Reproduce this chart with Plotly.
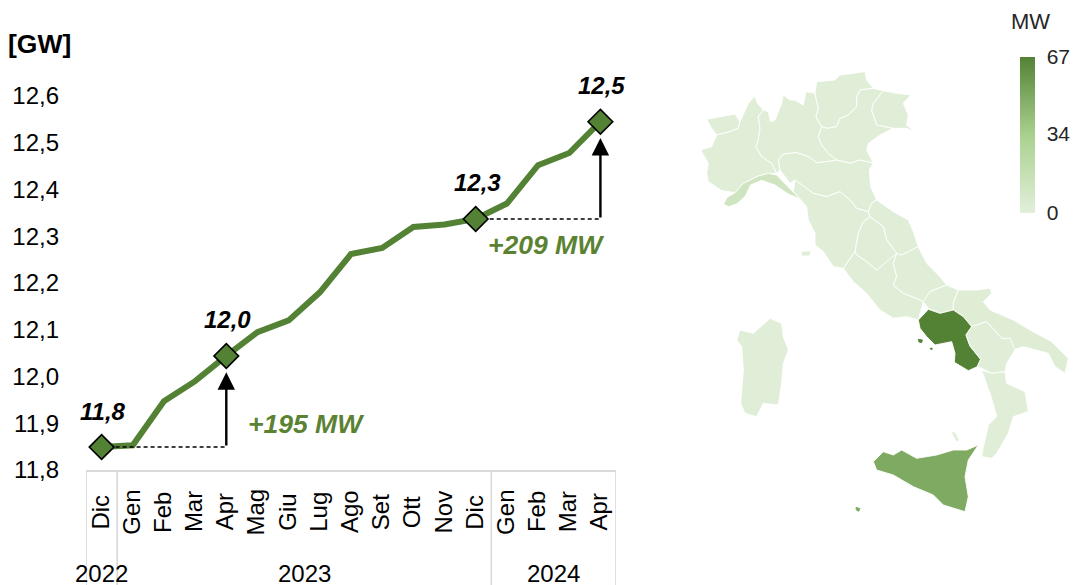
import plotly.graph_objects as go
from plotly.colors import sample_colorscale

FONT = "Liberation Sans, Arial, sans-serif"
GREEN = "#548235"
TEXT_GREEN = "#5b8232"
GRID = "#d9d9d9"

months = ["Dic", "Gen", "Feb", "Mar", "Apr", "Mag", "Giu", "Lug", "Ago", "Set", "Ott", "Nov", "Dic",
          "Gen", "Feb", "Mar", "Apr"]
capacity_gw = [11.849, 11.853, 11.947, 11.99, 12.044, 12.095, 12.12, 12.18, 12.262, 12.275, 12.32,
               12.325, 12.337, 12.37, 12.452, 12.478, 12.545]
highlight_idx = [0, 4, 12, 16]
highlight_lbl = ["11,8", "12,0", "12,3", "12,5"]
years = ["2022", "2023", "2024"]
year_pos = [0, 6.5, 14.5]
year_edges = [-0.5, 0.5, 12.5, 16.5]
y_ticks = [11.8, 11.9, 12.0, 12.1, 12.2, 12.3, 12.4, 12.5, 12.6]

colorbar_ticks = [0, 34, 67]
colorscale = [[0, "#e2efda"], [0.5, "#a9d18e"], [1, "#548235"]]

# Regional additions [MW], estimated from the map shading
region_mw = {"Valle d'Aosta": 1, "Piemonte": 1, "Lombardia": 1, "Trentino-Alto Adige": 1, "Veneto": 1,
             "Friuli-Venezia Giulia": 1, "Emilia-Romagna": 1, "Liguria": 11, "Toscana": 1, "Marche": 1,
             "Umbria": 1, "Lazio": 1, "Abruzzo": 1, "Molise": 1, "Puglia": 2, "Campania": 67,
             "Basilicata": 1, "Calabria": 1, "Sicilia": 50, "Sardegna": 1}

# Region outlines in map units
north = {
    "Valle d'Aosta": [(80,358),(115,352),(165,342),(180,365),(175,385),(150,395),(110,405),(95,385)],
    "Piemonte": [(110,405),(150,395),(175,385),(180,365),(205,310),(225,288),(232,310),(250,330),(235,350),
                 (240,385),(235,420),(228,440),(245,470),(275,490),(290,520),(265,520),(235,528),(190,550),
                 (165,578),(125,572),(85,545),(80,520),(85,490),(62,450),(95,440),(105,420)],
    "Lombardia": [(250,330),(265,335),(272,365),(285,360),(305,310),(310,285),(330,300),(345,300),(370,315),
                  (378,275),(405,280),(415,325),(408,350),(425,380),(415,410),(425,435),(445,460),(470,480),
                  (440,485),(410,488),(385,470),(350,458),(310,462),(295,480),(300,510),(290,520),(275,490),
                  (245,470),(228,440),(235,420),(240,385),(235,350)],
    "Trentino-Alto Adige": [(405,280),(410,245),(465,240),(480,225),(555,215),(560,240),(580,265),(540,270),
                            (530,290),(530,320),(505,345),(480,355),(470,380),(440,385),(425,380),(408,350),
                            (415,325)],
    "Veneto": [(580,265),(610,272),(580,310),(575,330),(590,375),(640,385),(600,405),(565,430),(560,450),
               (580,490),(540,480),(510,490),(470,480),(445,460),(425,435),(415,410),(425,380),(440,385),
               (470,380),(480,355),(505,345),(530,320),(530,290),(540,270)],
    "Friuli-Venezia Giulia": [(610,272),(650,280),(692,285),(670,310),(685,345),(680,375),(708,398),(680,385),
                              (640,385),(590,375),(575,330),(580,310)],
    "Emilia-Romagna": [(300,510),(295,480),(310,462),(350,458),(385,470),(410,488),(440,485),(470,480),
                       (510,490),(540,480),(580,490),(568,510),(572,560),(590,600),(575,610),(565,635),
                       (530,625),(510,600),(480,575),(440,590),(400,580),(345,540),(330,550),(310,525)],
    "Liguria": [(130,612),(142,592),(165,578),(190,550),(235,528),(265,520),(290,525),(310,545),(340,575),(360,597),
                (325,582),(285,555),(245,541),(212,555),(195,590),(170,612),(145,620)],
    "Toscana": [(345,540),(340,575),(360,597),(380,620),(385,660),(405,700),(405,735),(430,755),(460,800),
                (490,805),(525,755),(535,700),(550,665),(570,650),(565,635),(530,625),(510,600),(480,575),
                (440,590),(400,580)],
    "Marche": [(590,600),(640,635),(685,660),(700,695),(715,740),(665,765),(650,760),(620,720),(610,680),
               (570,650),(565,635),(575,610)],
    "Umbria": [(570,650),(610,680),(620,720),(650,760),(620,790),(590,810),(560,785),(530,765),(525,755),
               (535,700),(550,665)],
    "Lazio": [(490,805),(525,755),(530,765),(560,785),(590,810),(650,760),(640,790),(650,830),(640,855),
              (670,880),(710,895),(730,905),(715,960),(680,950),(640,955),(600,930),(560,880),(520,845)],
    "Abruzzo": [(715,740),(665,765),(650,760),(640,790),(650,830),(640,855),(670,880),(710,895),(730,905),
                (750,875),(800,855),(780,830),(740,790)],
}
south = {
    "Molise": [(680,45),(715,60),(700,100),(700,120),(660,130),(625,115),(610,95),(630,65)],
    "Puglia": [(715,60),(770,60),(810,55),(815,70),(790,95),(810,120),(880,150),(930,180),(995,215),(1045,265),
               (1035,310),(1005,290),(985,250),(910,230),(880,240),(870,205),(845,205),(800,155),(755,170),
               (730,140),(700,120),(700,100)],
    "Campania": [(595,150),(625,118),(660,130),(700,120),(730,140),(755,170),(738,195),(750,228),(782,268),
                 (772,290),(745,302),(703,277),(705,250),(695,215),(645,225),(620,200),(600,175)],
    "Basilicata": [(755,170),(800,155),(845,205),(870,205),(885,240),(860,280),(855,305),(815,310),(785,295),
                   (772,290),(782,268),(750,228),(738,195)],
    "Calabria": [(785,300),(815,310),(855,305),(860,340),(915,365),(925,425),(880,440),(865,490),(830,550),
                 (815,565),(785,560),(790,530),(800,490),(805,465),(830,440),(815,385)],
    "Sicilia": [(775,525),(745,570),(735,620),(745,680),(735,725),(670,705),(640,675),(580,650),(520,615),
                (470,600),(460,575),(490,545),(520,555),(545,540),(590,565),(650,555),(700,540),(740,540)],
    "Sardegna": [(150,145),(185,160),(190,200),(205,240),(190,280),(185,340),(175,405),(130,400),(110,440),
                 (75,430),(62,400),(70,300),(65,230),(50,210),(60,180),(100,190)],
}
islets = {
    "Campania": [[(595,208),(607,210),(605,218),(597,216)], [(630,235),(637,235),(635,240)]],
    "Sicilia": [[(408,712),(420,716),(416,724),(409,720)]],
    "Calabria": [[(698,486),(705,490),(716,510),(710,512),(700,495)]],
}
islets_north = {"Toscana": [[(365,757),(390,755),(388,765),(368,766)]]}
SOUTH_DX, SOUTH_DY = 120, 810

fig = go.Figure()

fig.add_trace(go.Scatter(x=list(range(len(months))), y=capacity_gw, mode="lines",
                         line=dict(color=GREEN, width=6, shape="linear"), hoverinfo="skip", showlegend=False))

d0, a0 = highlight_idx[0], highlight_idx[1]
d1, a1 = highlight_idx[2], highlight_idx[3]
for s, e in ((d0, a0), (d1, a1)):
    fig.add_trace(go.Scatter(x=[s, e], y=[capacity_gw[s], capacity_gw[s]], mode="lines",
                             line=dict(color="black", width=1.5, dash="4px,3px"), hoverinfo="skip", showlegend=False))

fig.add_trace(go.Scatter(x=highlight_idx, y=[capacity_gw[i] for i in highlight_idx], mode="markers",
                         marker=dict(symbol="diamond", size=19, color=GREEN, line=dict(color="black", width=1.6)),
                         hoverinfo="skip", showlegend=False))

def region_color(name):
    return sample_colorscale(colorscale, region_mw[name] / colorbar_ticks[-1])[0]

def add_poly(pts, name, dx=0, dy=0, border=True):
    xs = [p[0] + dx for p in pts] + [pts[0][0] + dx]
    ys = [p[1] + dy for p in pts] + [pts[0][1] + dy]
    fig.add_trace(go.Scatter(x=xs, y=ys, xaxis="x2", yaxis="y2", mode="lines", fill="toself",
                             fillcolor=region_color(name),
                             line=dict(color="white" if border else region_color(name), width=0.9),
                             hoverinfo="skip", showlegend=False))

for name, pts in north.items():
    add_poly(pts, name)
for name, pts in south.items():
    add_poly(pts, name, SOUTH_DX, SOUTH_DY)
for name, polys in islets.items():
    for pts in polys:
        add_poly(pts, name, SOUTH_DX, SOUTH_DY, border=False)
for name, polys in islets_north.items():
    for pts in polys:
        add_poly(pts, name, border=False)

fig.add_trace(go.Scatter(x=[None], y=[None], xaxis="x2", yaxis="y2", mode="markers", hoverinfo="skip",
                         showlegend=False,
                         marker=dict(color=[0], cmin=colorbar_ticks[0], cmax=colorbar_ticks[-1], colorscale=colorscale,
                                     showscale=True,
                                     colorbar=dict(x=1020/1077, xanchor="left", y=(585-135)/585, yanchor="middle",
                                                   lenmode="pixels", len=156, thicknessmode="pixels", thickness=15,
                                                   xpad=0, ypad=0, outlinewidth=0, ticks="outside", ticklen=8,
                                                   tickcolor="rgba(0,0,0,0)",
                                                   tickvals=colorbar_ticks, ticktext=[str(t) for t in colorbar_ticks],
                                                   tickfont=dict(family=FONT, size=21, color="#262626")))))

annotations = []
for m_i, m in enumerate(months):
    annotations.append(dict(x=m_i, xref="x", y=(585-512)/585, yref="paper", text=m, textangle=-90, showarrow=False,
                            xshift=-2, font=dict(family=FONT, size=24, color="black"),
                            xanchor="center", yanchor="middle"))
for yr, p in zip(years, year_pos):
    annotations.append(dict(x=p, xref="x", y=(585-573)/585, yref="paper", text=yr, showarrow=False,
                            font=dict(family=FONT, size=24, color="black"), xanchor="center", yanchor="middle"))
for i, lbl in zip(highlight_idx, highlight_lbl):
    annotations.append(dict(x=i, y=capacity_gw[i], xref="x", yref="y", text=f"<b><i>{lbl}</i></b>", showarrow=False,
                            yshift=36, xshift=1.5, font=dict(family=FONT, size=24, color="black"),
                            xanchor="center", yanchor="middle"))
annotations.append(dict(x=6.57, y=11.898, xref="x", yref="y", text="<b><i>+195 MW</i></b>", showarrow=False,
                        font=dict(family=FONT, size=26.5, color=TEXT_GREEN), xanchor="center", yanchor="middle"))
annotations.append(dict(x=14.26, y=12.281, xref="x", yref="y", text="<b><i>+209 MW</i></b>", showarrow=False,
                        font=dict(family=FONT, size=26.5, color=TEXT_GREEN), xanchor="center", yanchor="middle"))
annotations.append(dict(x=a0, y=12.009, ax=a0, ay=capacity_gw[d0], xref="x", yref="y", axref="x", ayref="y", text="",
                        showarrow=True, arrowhead=2, arrowsize=1.45, arrowwidth=2.4, arrowcolor="black", standoff=0))
annotations.append(dict(x=a1, y=12.51, ax=a1, ay=capacity_gw[d1], xref="x", yref="y", axref="x", ayref="y", text="",
                        showarrow=True, arrowhead=2, arrowsize=1.45, arrowwidth=2.4, arrowcolor="black", standoff=0))
annotations.append(dict(x=40/1077, xref="paper", y=(585-44)/585, yref="paper", text="<b>[GW]</b>", showarrow=False,
                        font=dict(family=FONT, size=26.5, color="black"), xanchor="center", yanchor="middle"))
annotations.append(dict(x=1030/1077, xref="paper", y=(585-22)/585, yref="paper", text="MW", showarrow=False,
                        font=dict(family=FONT, size=22, color="#262626"), xanchor="center", yanchor="middle"))

shapes = [dict(type="line", xref="x", yref="paper", x0=e, x1=e, y0=0, y1=(585-470)/585,
               line=dict(color=GRID, width=1.6), layer="below") for e in year_edges]

fig.update_layout(
    width=1077, height=585, margin=dict(l=0, r=0, t=0, b=0, autoexpand=False), autosize=False,
    paper_bgcolor="white", plot_bgcolor="rgba(0,0,0,0)", separators=",.",
    font=dict(family=FONT, color="black"), showlegend=False,
    annotations=annotations, shapes=shapes,
    xaxis=dict(domain=[86/1077, 616/1077], range=[-0.5, 16.5], showgrid=False, zeroline=False,
               showticklabels=False, ticks="", showline=True, linecolor=GRID, linewidth=2, anchor="y"),
    yaxis=dict(domain=[(585-470)/585, (585-96)/585], range=[11.8, 12.6], showgrid=False, zeroline=False,
               tickvals=y_ticks, tickformat=".1f", ticks="", showline=False, ticklabelstandoff=26,
               tickfont=dict(family=FONT, size=24, color="black"), anchor="x"),
    xaxis2=dict(domain=[680/1077, 1], range=[0, 1191], visible=False, anchor="y2", fixedrange=True),
    yaxis2=dict(domain=[0, 1], range=[1755, 0], visible=False, anchor="x2", fixedrange=True),
)

fig.write_html("out.html", config={"displayModeBar": False},
               post_script="document.body.style.margin='0';document.documentElement.style.overflow='hidden';")
